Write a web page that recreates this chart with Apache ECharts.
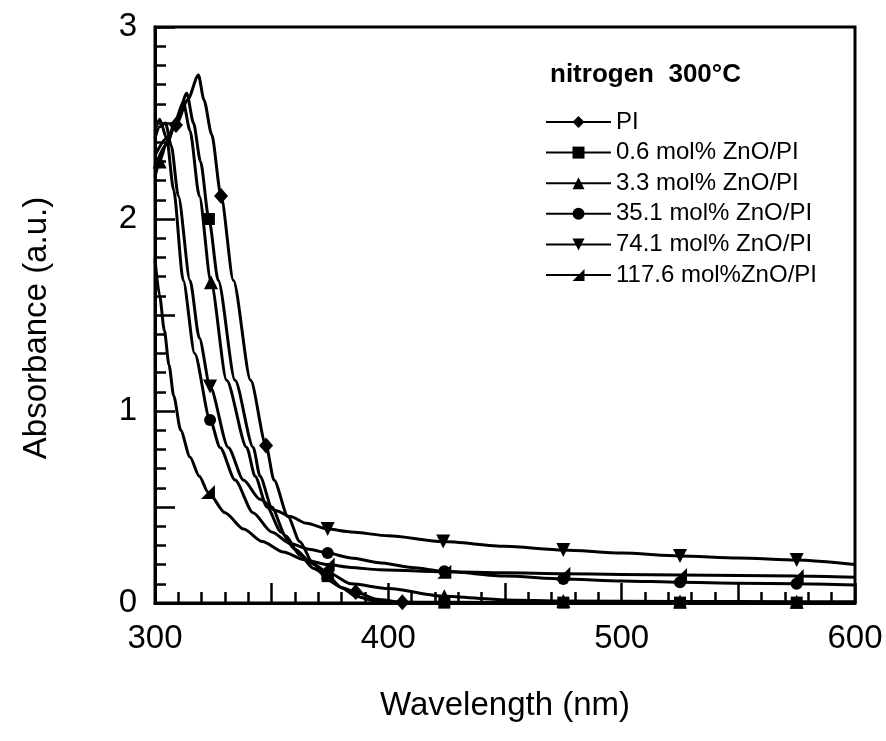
<!DOCTYPE html>
<html>
<head>
<meta charset="utf-8">
<title>Absorbance spectra, nitrogen 300°C</title>
<script src="https://cdn.jsdelivr.net/npm/echarts@6/dist/echarts.min.js"></script>
<style>
  html, body { margin: 0; padding: 0; background: #fff; }
  #chart { width: 886px; height: 741px; }
</style>
</head>
<body>
<div id="chart"></div>
<script>
// Series names, as shown in the legend
const seriesNames = [
  'PI',
  '0.6 mol% ZnO/PI',
  '3.3 mol% ZnO/PI',
  '35.1 mol% ZnO/PI',
  '74.1 mol% ZnO/PI',
  '117.6 mol%ZnO/PI'
];

// Absorbance curves: [wavelength (nm), absorbance (a.u.)]
const curvePI = [
  [300, 2.33], [305, 2.42], [309, 2.49], [314, 2.62], [318.6, 2.75], [321, 2.62],
  [324.3, 2.44], [328.3, 2.12], [333.6, 1.68], [341, 1.16], [347.6, 0.82], [351, 0.64],
  [357, 0.45], [362, 0.32], [368, 0.2], [374, 0.12], [380, 0.08], [386, 0.057],
  [395, 0.02], [406, 0.004], [450, 0.003], [500, 0.003], [550, 0.003], [600, 0.003]
];
const curveZnO06 = [
  [300, 2.27], [305, 2.39], [309.5, 2.52], [313.6, 2.655], [316.5, 2.5], [319.5, 2.3],
  [323.1, 2.0], [327.1, 1.68], [334.3, 1.16], [342.1, 0.81], [345, 0.66], [350, 0.5],
  [356, 0.35], [362, 0.25], [368, 0.18], [374, 0.14], [380, 0.08], [386, 0.035],
  [394, 0.012], [405, 0.004], [424, 0.002], [475, 0.002], [525, 0.002], [575, 0.002], [600, 0.002]
];
const curveZnO33 = [
  [300, 2.22], [302, 2.3], [305, 2.4], [309, 2.52], [312.1, 2.61], [315, 2.46],
  [319, 2.12], [324, 1.67], [330.7, 1.16], [339.3, 0.81], [342.9, 0.66], [348, 0.5],
  [354, 0.37], [360, 0.28], [367, 0.21], [374, 0.16], [384, 0.1], [400, 0.075],
  [424, 0.035], [450, 0.016], [475, 0.01], [525, 0.008], [575, 0.007], [600, 0.007]
];
const curveZnO351 = [
  [300, 2.46], [302, 2.52], [305, 2.42], [308, 2.15], [312.1, 1.68], [317, 1.3],
  [323.6, 0.953], [327.9, 0.81], [334.3, 0.64], [342, 0.47], [350, 0.37], [358, 0.31],
  [366, 0.28], [374, 0.26], [384, 0.235], [396, 0.21], [410, 0.185], [424, 0.165],
  [450, 0.14], [475, 0.125], [500, 0.115], [525, 0.108], [550, 0.103], [575, 0.1], [600, 0.094]
];
const curveZnO741 = [
  [300, 2.42], [302, 2.48], [304.5, 2.5], [307, 2.38], [310, 2.12], [315, 1.68],
  [319, 1.38], [323.6, 1.127], [331.4, 0.81], [337.9, 0.64], [345, 0.54], [352, 0.48],
  [358, 0.45], [365, 0.415], [374, 0.385], [384, 0.37], [400, 0.35], [423.5, 0.32],
  [450, 0.295], [475, 0.276], [500, 0.26], [525, 0.245], [550, 0.235], [575, 0.224], [600, 0.2]
];
const curveZnO1176 = [
  [300, 1.79], [302, 1.6], [304, 1.42], [306, 1.24], [308, 1.08], [311, 0.9],
  [315, 0.76], [319, 0.66], [322.7, 0.578], [330, 0.47], [338, 0.385], [346, 0.32],
  [355, 0.265], [364, 0.225], [374, 0.2], [384, 0.185], [396, 0.173], [424, 0.163],
  [450, 0.157], [475, 0.152], [500, 0.149], [525, 0.146], [550, 0.143], [575, 0.14], [600, 0.134]
];

// Wavelengths at which each curve carries a marker
const markersPI = [309, 328.3, 347.6, 386, 406];
const markersZnO06 = [323.1, 374, 424, 475, 525, 575];
const markersZnO33 = [302, 324, 374, 424, 475, 525, 575];
const markersZnO351 = [323.6, 374, 424, 475, 525, 575];
const markersZnO741 = [323.6, 374, 423.5, 475, 525, 575];
const markersZnO1176 = [322.7, 374, 424, 475, 525, 575];

// Axis ticks
const xTicks = [300, 400, 500, 600];
const yTicks = [0, 1, 2, 3];

const FONT = '"Liberation Sans", Arial, Helvetica, sans-serif';
const INK = '#000';

const curves = [curvePI, curveZnO06, curveZnO33, curveZnO351, curveZnO741, curveZnO1176];
const markers = [markersPI, markersZnO06, markersZnO33, markersZnO351, markersZnO741, markersZnO1176];
const symbols = [
  { symbol: 'diamond', size: [14, 16], rotate: 0 },
  { symbol: 'rect', size: 12, rotate: 0 },
  { symbol: 'triangle', size: 14, rotate: 0 },
  { symbol: 'circle', size: 12, rotate: 0 },
  { symbol: 'triangle', size: 14, rotate: 180 },
  { symbol: 'path://M10,0 L10,10 L0,10 Z', size: 14, rotate: 0 }
];

const series = curves.map((curve, i) => {
  const marked = markers[i];
  const data = curve.map(p => marked.includes(p[0])
    ? { value: p }
    : { value: p, symbol: 'none' });
  return {
    type: 'line',
    name: seriesNames[i],
    data: data,
    smooth: 0.25,
    smoothMonotone: 'x',
    symbol: symbols[i].symbol,
    symbolSize: symbols[i].size,
    symbolRotate: symbols[i].rotate,
    showSymbol: true,
    showAllSymbol: true,
    lineStyle: { color: INK, width: 3 },
    itemStyle: { color: INK, borderWidth: 0 },
    emphasis: { disabled: true },
    clip: true
  };
});

const chart = echarts.init(document.getElementById('chart'), null, { renderer: 'canvas' });
chart.setOption({
  animation: false,
  backgroundColor: '#fff',
  textStyle: { fontFamily: FONT, color: INK },
  title: {
    text: 'nitrogen  300°C',
    left: 550,
    top: 62,
    padding: 0,
    textStyle: { fontFamily: FONT, fontSize: 26, fontWeight: 'bold', color: INK }
  },
  legend: {
    orient: 'vertical',
    left: 545,
    top: 110,
    padding: 0,
    itemWidth: 65,
    itemHeight: 15,
    itemGap: 6.6,
    data: seriesNames,
    textStyle: { fontFamily: FONT, fontSize: 24, color: INK },
    selectedMode: false
  },
  grid: {
    left: 155,
    right: 31,
    top: 27,
    bottom: 138,
    show: true,
    borderColor: INK,
    borderWidth: 3,
    backgroundColor: 'transparent',
    containLabel: false
  },
  xAxis: {
    type: 'value',
    min: 300,
    max: 600,
    interval: 50,
    name: 'Wavelength (nm)',
    nameLocation: 'middle',
    nameGap: 86,
    nameTextStyle: { fontFamily: FONT, fontSize: 33, color: INK },
    axisLine: { show: true, lineStyle: { color: INK, width: 3 } },
    axisTick: { show: true, inside: true, length: 20, lineStyle: { color: INK, width: 2.5 } },
    minorTick: { show: true, splitNumber: 5, length: 11, lineStyle: { color: INK, width: 2.5 } },
    splitLine: { show: false },
    minorSplitLine: { show: false },
    axisLabel: {
      margin: 19,
      fontFamily: FONT,
      fontSize: 33,
      color: INK,
      formatter: v => (xTicks.includes(v) ? String(v) : '')
    }
  },
  yAxis: {
    type: 'value',
    min: 0,
    max: 3,
    interval: 0.5,
    name: 'Absorbance (a.u.)',
    nameLocation: 'middle',
    nameGap: 102,
    nameRotate: 90,
    nameTextStyle: { fontFamily: FONT, fontSize: 33, color: INK, padding: [0, 26, 0, 0] },
    axisLine: { show: true, lineStyle: { color: INK, width: 3 } },
    axisTick: { show: true, inside: true, length: 20, lineStyle: { color: INK, width: 2.5 } },
    minorTick: { show: true, splitNumber: 5, length: 11, lineStyle: { color: INK, width: 2.5 } },
    splitLine: { show: false },
    minorSplitLine: { show: false },
    axisLabel: {
      margin: 18,
      fontFamily: FONT,
      fontSize: 33,
      color: INK,
      formatter: v => (yTicks.includes(v) ? String(v) : '')
    }
  },
  series: series
});
</script>
</body>
</html>
